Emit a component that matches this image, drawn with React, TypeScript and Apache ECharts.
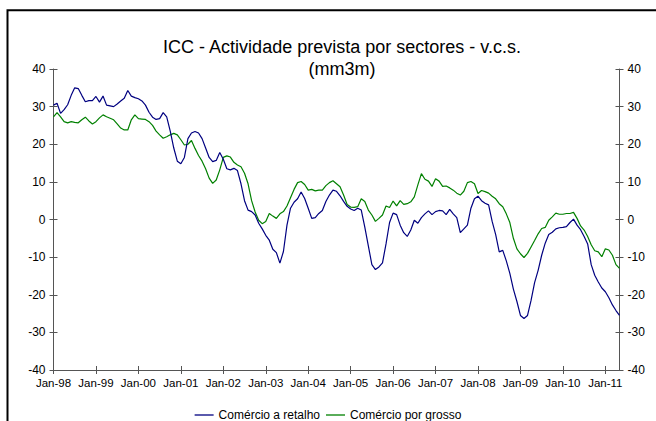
import React, { useEffect, useRef } from 'react';
import * as echarts from 'echarts';

const monthNames = ['Jan', 'Feb', 'Mar', 'Apr', 'May', 'Jun', 'Jul', 'Aug', 'Sep', 'Oct', 'Nov', 'Dec'];
const years = ['98', '99', '00', '01', '02', '03', '04', '05', '06', '07', '08', '09', '10', '11'];

const retail = [
  30.4, 30.9, 28.2, 29.2, 30.5, 33, 35, 34.8, 33, 31.3, 31.6, 31.6,
  32.7, 31.2, 32.8, 30.4, 30.2, 30, 30.7, 31.5, 32.2, 34.3, 32.8, 32.4,
  32.1, 31.5, 30.4, 28.5, 27.2, 26.6, 26.8, 28.4, 27.3, 23.5, 19, 15.5,
  14.8, 16.5, 21.5, 23, 23.4, 23, 21.5, 19, 16.5, 15.4, 15.7, 17.8,
  16, 13.5, 13.2, 13.6, 13, 9.5, 5, 2.5, 2.1, 1.2, -1, -2.5,
  -4.2, -5.5, -7.9, -8.8, -11.6, -8.5, -1.5, 3, 4.6, 5.5, 7.3, 5.6,
  3, 0.3, 0.5, 1.6, 2.4, 4.8, 6.5, 7.8, 7.5, 6.3, 4.8, 3.5,
  2.8, 2.4, 3, 2.5, -2, -7, -12, -13.3, -12.6, -11.5, -6.5, -0.8,
  1.7, 1.3, -1.5, -3.5, -4.5, -2.8, -0.2, -1, 0.5, 1.5, 2.3, 1.3,
  2.1, 2.4, 2.3, 1.3, 2.7, 1.5, 0.5, -3.5, -2.5, -1.5, 3, 5.5,
  6.2, 5, 4.3, 3.9, -0.5, -4, -8.6, -8.2, -11, -14.3, -18.5, -21.8,
  -25.5, -26.3, -25.5, -21.5, -16.8, -13.5, -9.5, -6.3, -4, -3.4, -2.5, -2.2,
  -2.1, -1.9, -0.8, 0.1, -1.5, -2.7, -4.5, -6.5, -12, -14.8, -16.6, -18.2,
  -19.2, -20.8, -22.7, -24.2, -25.5,
];

const wholesale = [
  27.3, 28.4, 27.3, 26, 25.7, 26, 25.8, 25.7, 26.5, 27.2, 26.2, 25.4,
  26, 27, 27.8, 27.3, 26.9, 26.5, 25.4, 24.3, 23.8, 23.8, 26.5, 27.8,
  26.8, 26.7, 26.6, 26, 25, 23.5, 22.5, 21.6, 22, 22.5, 22.9, 22.5,
  21.2, 19.8, 20, 21, 18.9, 17, 15.5, 13.5, 11, 9.6, 10.5, 13.2,
  16.5, 16.9, 16.6, 15.2, 14.5, 14, 12.3, 9.5, 5, 2, -0.2, -1.1,
  -0.5, 1.6, 0.9, 0.3, 1.5, 2.1, 3.6, 5.8, 8, 9.8, 10.1, 9.3,
  7.8, 8, 7.6, 7.8, 7.8, 9, 9.8, 10.3, 9.5, 8.7, 6.5, 4,
  3.3, 3.2, 3.4, 5.5, 4.8, 2.5, 1.2, -0.5, 0.3, 1.2, 3.6, 3.2,
  4.9, 3.6, 5, 4, 4.2, 4.7, 6, 9.2, 12.2, 10.7, 10.2, 8.8,
  10.8, 10.2, 8.8, 8.9, 8.4, 7.8, 7, 6.5, 7.5, 9.8, 10.1, 9.5,
  6.9, 7.7, 7.4, 7, 6.2, 5.5, 4.2, 3.4, 1.5, -0.8, -5, -7.8,
  -9.1, -10.1, -9, -7.3, -5.6, -3.8, -2.4, -2.1, -0.2, 0.7, 1.7, 1.4,
  1.4, 1.6, 1.6, 1.9, 0.3, -1.7, -2.8, -4.5, -6.7, -8.3, -8.6, -9.9,
  -7.8, -8.1, -9.5, -12, -13,
];

const categories: string[] = [];
for (const y of years) {
  for (const m of monthNames) {
    if (categories.length < retail.length) categories.push(`${m}-${y}`);
  }
}

const FONT = "'Liberation Sans', Arial, sans-serif";
const AXIS_COLOR = '#555555';

export default function App() {
  const ref = useRef<HTMLDivElement>(null);

  useEffect(() => {
    if (!ref.current) return;
    const chart = echarts.init(ref.current, undefined, { renderer: 'svg' });

    const yBase: any = {
      type: 'value',
      min: -40,
      max: 40,
      interval: 10,
      splitLine: { show: false },
      axisLine: { show: true, lineStyle: { color: AXIS_COLOR, width: 1 } },
      axisTick: { show: true, length: 4, lineStyle: { color: AXIS_COLOR } },
    };
    const yLabel = { show: true, color: '#000', fontFamily: FONT, fontSize: 12, margin: 8 };
    const xTickInterval = (i: number) => i % 12 === 0;

    chart.setOption({
      animation: false,
      backgroundColor: '#ffffff',
      title: {
        text: 'ICC - Actividade prevista por sectores - v.c.s.\n(mm3m)',
        left: 337,
        top: 31,
        textAlign: 'center',
        textStyle: {
          fontFamily: FONT,
          fontSize: 18,
          fontWeight: 'normal',
          color: '#000',
          lineHeight: 22,
        },
      },
      graphic: [
        {
          type: 'rect',
          shape: { x: 7.5, y: 10.3, width: 720, height: 520 },
          style: { fill: 'none', stroke: '#000', lineWidth: 2 },
          silent: true,
        },
      ],
      legend: {
        left: 'center',
        top: 404,
        icon: 'rect',
        itemWidth: 19,
        itemHeight: 1.3,
        itemGap: 6,
        textStyle: { fontFamily: FONT, fontSize: 12, color: '#000' },
        data: ['Comércio a retalho', 'Comércio por grosso'],
      },
      grid: { left: 53.5, right: 36.5, top: 69, bottom: 51, containLabel: false },
      xAxis: [
        {
          type: 'category',
          data: categories,
          boundaryGap: false,
          axisLine: { show: true, onZero: false, lineStyle: { color: AXIS_COLOR } },
          axisTick: { show: true, length: 4, interval: xTickInterval, lineStyle: { color: AXIS_COLOR } },
          axisLabel: { interval: xTickInterval, color: '#000', fontFamily: FONT, fontSize: 11.5, margin: 7 },
          splitLine: { show: false },
        },
        {
          type: 'category',
          data: categories,
          boundaryGap: false,
          position: 'bottom',
          axisLine: { show: false, onZero: false },
          axisTick: { show: true, inside: true, length: 4, interval: xTickInterval, lineStyle: { color: AXIS_COLOR } },
          axisLabel: { show: false },
          splitLine: { show: false },
        },
      ],
      yAxis: [
        { ...yBase, position: 'left', axisLabel: yLabel },
        { ...yBase, position: 'right', axisLabel: yLabel },
        { ...yBase, position: 'left', axisLine: { show: false }, axisLabel: { show: false }, axisTick: { show: true, inside: true, length: 4, lineStyle: { color: AXIS_COLOR } } },
        { ...yBase, position: 'right', axisLine: { show: false }, axisLabel: { show: false }, axisTick: { show: true, inside: true, length: 4, lineStyle: { color: AXIS_COLOR } } },
      ],
      series: [
        {
          name: 'Comércio a retalho',
          type: 'line',
          data: retail,
          xAxisIndex: 0,
          yAxisIndex: 0,
          showSymbol: false,
          symbol: 'none',
          lineStyle: { color: '#000080', width: 1.2 },
          itemStyle: { color: '#000080' },
          z: 3,
        },
        {
          name: 'Comércio por grosso',
          type: 'line',
          data: wholesale,
          xAxisIndex: 0,
          yAxisIndex: 0,
          showSymbol: false,
          symbol: 'none',
          lineStyle: { color: '#008000', width: 1.2 },
          itemStyle: { color: '#008000' },
          z: 2,
        },
      ],
    });

    return () => chart.dispose();
  }, []);

  return (
    <div
      ref={ref}
      style={{ position: 'absolute', left: 0, top: 0, width: 656, height: 421, background: '#fff' }}
    />
  );
}
